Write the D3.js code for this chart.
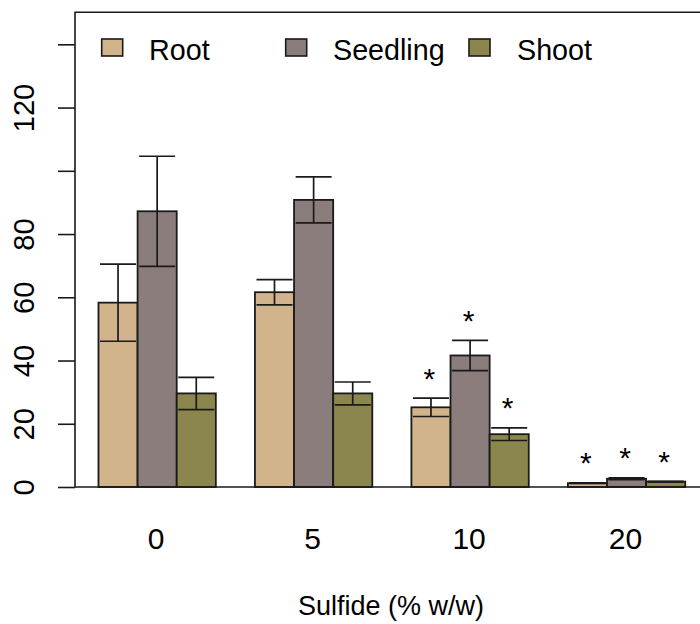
<!DOCTYPE html>
<html>
<head>
<meta charset="utf-8">
<script src="https://cdn.jsdelivr.net/npm/d3@7"></script>
<style>
  html, body { margin: 0; padding: 0; background: #fff; }
  svg { display: block; font-family: "Liberation Sans", Arial, sans-serif; }
</style>
</head>
<body>
<svg id="chart" width="700" height="624"></svg>
<script>
// ---- data ----
const categories = ["0", "5", "10", "20"];
const seriesNames = ["Root", "Seedling", "Shoot"];
const seriesColors = ["#D2B48C", "#8B7D7B", "#8B864E"];
const rootValues     = [58.3, 61.6, 25.2, 1.2];
const seedlingValues = [87.2, 90.8, 41.6, 2.6];
const shootValues    = [29.6, 29.6, 16.7, 1.7];
const rootErr     = [12.2, 4.0, 2.9, 0.1];
const seedlingErr = [17.4, 7.3, 4.8, 0.3];
const shootErr    = [5.1, 3.6, 2.0, 0.1];
// significance markers (true = asterisk above bar)
const rootSig     = [false, false, true, true];
const seedlingSig = [false, false, true, true];
const shootSig    = [false, false, true, true];
const yTicks = [0, 20, 40, 60, 80, 100, 120, 140];
const yTickLabels = ["0", "20", "40", "60", "80", "", "120", ""];
const xTitle = "Sulfide (% w/w)";

const values = [rootValues, seedlingValues, shootValues];
const errs = [rootErr, seedlingErr, shootErr];
const sigs = [rootSig, seedlingSig, shootSig];

// ---- layout ----
const svg = d3.select("#chart");
const plotLeft = 75, plotTop = 12.7, plotBottom = 487, plotRight = 708.7;

// barplot units (R style: beside, space=c(0,1))
const x = d3.scaleLinear().domain([0.4, 16.6]).range([plotLeft, plotRight]);
const y = d3.scaleLinear().domain([0, 150]).range([plotBottom, plotTop]);

const bars = [];
categories.forEach((c, g) => {
  seriesNames.forEach((s, j) => {
    const u0 = 1 + 4 * g + j;
    bars.push({ g, j, u0, u1: u0 + 1, v: values[j][g], e: errs[j][g], sig: sigs[j][g], color: seriesColors[j] });
  });
});

// bars
svg.append("g").selectAll("rect").data(bars).join("rect")
  .attr("x", d => x(d.u0))
  .attr("y", d => y(d.v))
  .attr("width", d => x(d.u1) - x(d.u0))
  .attr("height", d => y(0) - y(d.v))
  .attr("fill", d => d.color)
  .attr("stroke", "#1a1a1a")
  .attr("stroke-width", 1.8);

// error bars
const capHalf = 18;
const eb = svg.append("g").attr("stroke", "#1a1a1a").attr("stroke-width", 1.7);
bars.forEach(d => {
  const cx = x((d.u0 + d.u1) / 2);
  const yt = y(d.v + d.e), yb = y(d.v - d.e);
  eb.append("line").attr("x1", cx).attr("x2", cx).attr("y1", yt).attr("y2", yb);
  eb.append("line").attr("x1", cx - capHalf).attr("x2", cx + capHalf).attr("y1", yt).attr("y2", yt);
  eb.append("line").attr("x1", cx - capHalf).attr("x2", cx + capHalf).attr("y1", yb).attr("y2", yb);
});

// asterisks
const starOffset = 8.4;
svg.append("g").selectAll("text").data(bars.filter(d => d.sig)).join("text")
  .attr("x", d => x((d.u0 + d.u1) / 2) - 1.5)
  .attr("y", d => y(d.v + d.e + starOffset) + 17)
  .attr("text-anchor", "middle")
  .attr("font-size", 30)
  .attr("fill", "#000")
  .text("*");

// plot box (left, top, bottom)
const box = svg.append("g").attr("stroke", "#1a1a1a").attr("stroke-width", 1.6).attr("fill", "none");
box.append("path").attr("d", `M${plotRight},${plotTop - 0.5}H${plotLeft}V${plotBottom}H${plotRight}`);

// y axis
const yAxis = d3.axisLeft(y).tickValues(yTicks).tickSize(17).tickPadding(0)
  .tickFormat((d, i) => yTickLabels[i]);
const ya = svg.append("g").attr("transform", `translate(${plotLeft},0)`).call(yAxis);
ya.select(".domain").remove();
ya.selectAll(".tick line").attr("stroke", "#1a1a1a").attr("stroke-width", 1.6);
ya.selectAll(".tick text")
  .attr("font-size", 29)
  .attr("fill", "#000")
  .attr("font-family", "Liberation Sans, Arial, sans-serif")
  .attr("text-anchor", "middle")
  .attr("dy", null)
  .attr("x", null)
  .attr("transform", d => `translate(-41,${0}) rotate(-90)`)
  .attr("dominant-baseline", "auto");

// x category labels
svg.append("g").selectAll("text").data(categories).join("text")
  .attr("x", (d, g) => x(2.5 + 4 * g) - 1)
  .attr("y", 549)
  .attr("text-anchor", "middle")
  .attr("font-size", 30)
  .attr("fill", "#000")
  .text(d => d);

// x title
svg.append("text")
  .attr("x", 391)
  .attr("y", 615)
  .attr("text-anchor", "middle")
  .attr("font-size", 27)
  .attr("fill", "#000")
  .text(xTitle);

// legend
const legendX = [101.7, 285.7, 469];
const legendTextX = [149, 333, 517];
const lg = svg.append("g");
seriesNames.forEach((s, j) => {
  lg.append("rect").attr("x", legendX[j]).attr("y", 39).attr("width", 21).attr("height", 17)
    .attr("fill", seriesColors[j]).attr("stroke", "#1a1a1a").attr("stroke-width", 1.6);
  lg.append("text").attr("x", legendTextX[j]).attr("y", 60)
    .attr("font-size", 28.7).attr("fill", "#000").text(s);
});
</script>
</body>
</html>
